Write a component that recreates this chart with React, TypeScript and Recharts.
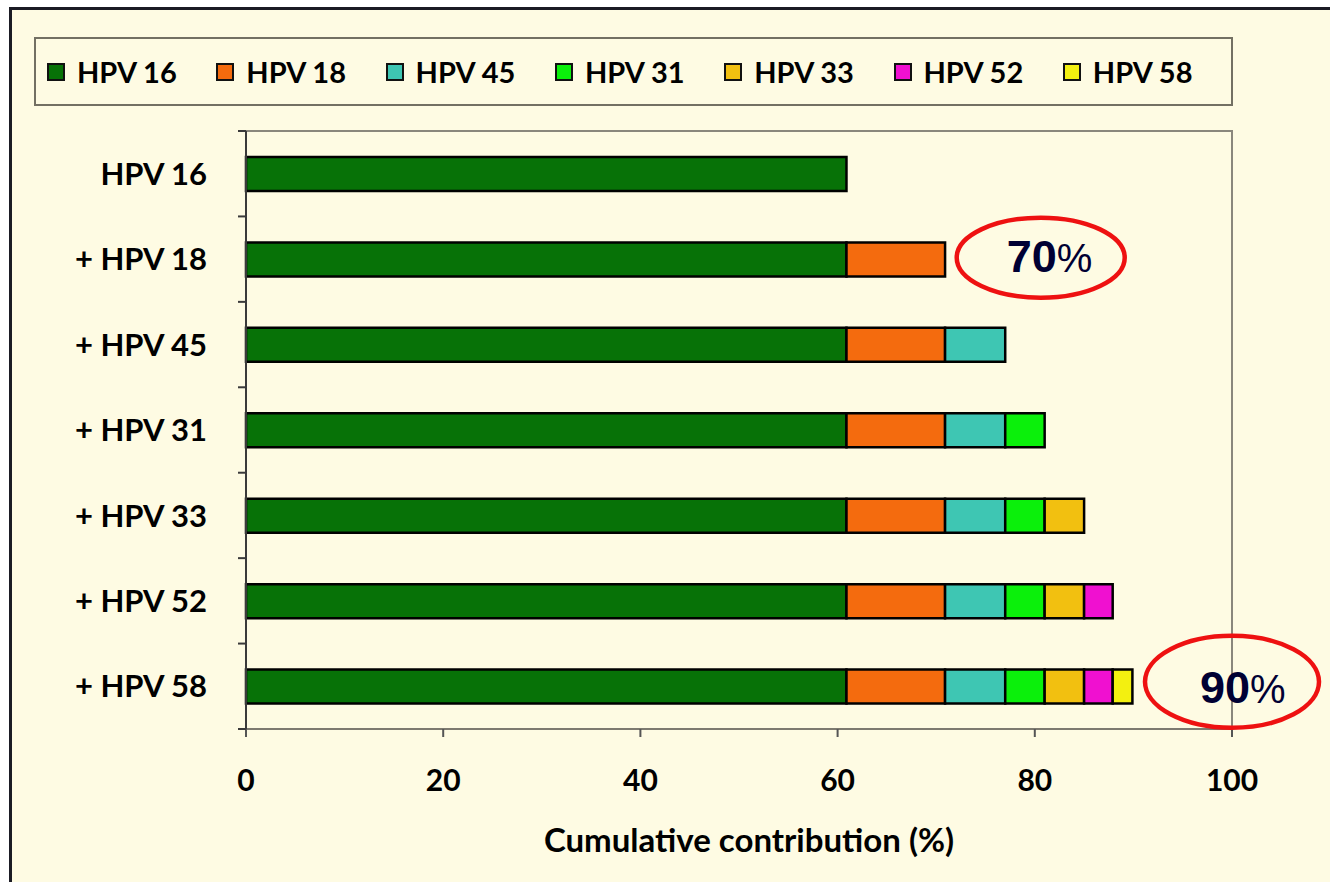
import React from "react"
import { BarChart, Bar, XAxis, YAxis, ReferenceArea, ReferenceDot, Label } from "recharts"

// Rows of the chart (each row adds one more type)
const categories = ["HPV 16", "+ HPV 18", "+ HPV 45", "+ HPV 31", "+ HPV 33", "+ HPV 52", "+ HPV 58"]
// Series / segments
const seriesNames = ["HPV 16", "HPV 18", "HPV 45", "HPV 31", "HPV 33", "HPV 52", "HPV 58"]
// Contribution of each type (%)
const increments = [60.9, 10, 6.1, 4, 4, 2.9, 2]
const seriesColors = ["#077207", "#F46B0E", "#3EC6B3", "#0BF00B", "#F2C010", "#F010D0", "#F3F010"]
const xTicks = [0, 20, 40, 60, 80, 100]

// Circled totals
const callouts = [
    { category: "+ HPV 18", value: 80.6, number: "70" },
    { category: "+ HPV 58", value: 100, number: "90" },
]
const calloutStyles = [
    { rx: 84, ry: 40, dy: -1.5, tx: -34, ty: 12.5 },
    { rx: 87, ry: 46, dy: -4.5, tx: -32, ty: 16.5 },
]

const FONT = "Lato, 'Open Sans', sans-serif"
const CREAM = "#FEFBE3"
const Y_TICK_MARGIN = 39

const chartData = categories.map((name, i) => {
    const row: Record<string, string | number> = { name }
    seriesNames.forEach((s, j) => {
        if (j <= i) row[s] = increments[j]
    })
    return row
})

// Category label plus Excel-style tick marks on the band edges
const CategoryTick = (props: any) => {
    const { x, y, payload, index } = props
    const axisX = x + Y_TICK_MARGIN
    const half = payload?.offset ?? 0
    return (
        <g>
            <line x1={axisX - 8} x2={axisX} y1={y - half} y2={y - half} stroke="#3a3a3a" strokeWidth={2} />
            {index === categories.length - 1 && (
                <line x1={axisX - 8} x2={axisX} y1={y + half} y2={y + half} stroke="#3a3a3a" strokeWidth={2} />
            )}
            <text
                x={x}
                y={y}
                dy="0.36em"
                textAnchor="end"
                fontSize={31}
                fontWeight={700}
                fill="#000"
                fontFamily={FONT}
            >
                {payload.value}
            </text>
        </g>
    )
}

const CalloutShape = (props: { cx?: number; cy?: number; idx: number; number: string }) => {
    const { cx, cy, idx, number } = props
    if (cx == null || cy == null) return null
    const st = calloutStyles[idx]
    return (
        <g>
            <ellipse cx={cx} cy={cy + st.dy} rx={st.rx} ry={st.ry} fill="none" stroke="#EE1111" strokeWidth={4.5} />
            <text x={cx + st.tx} y={cy + st.ty} fill="#000033" fontFamily="'Liberation Sans', Arial, sans-serif">
                <tspan fontWeight="bold" fontSize={45}>{number}</tspan>
                <tspan fontSize={40}>%</tspan>
            </text>
        </g>
    )
}

export default function App() {
    return (
        <div style={{ position: "absolute", left: 0, top: 0, width: 1330, height: 882, background: "#fff", overflow: "hidden" }}>
            {/* slide frame */}
            <div
                style={{
                    position: "absolute",
                    left: 9,
                    top: 7,
                    width: 1330,
                    height: 882,
                    background: CREAM,
                    borderTop: "3px solid #1b1b24",
                    borderLeft: "3px solid #1b1b24",
                }}
            />
            {/* legend */}
            <div
                style={{
                    position: "absolute",
                    left: 34,
                    top: 37,
                    width: 1199,
                    height: 69,
                    boxSizing: "border-box",
                    border: "2px solid #737063",
                    fontFamily: FONT,
                }}
            >
                {seriesNames.map((s, i) => (
                    <div
                        key={s}
                        style={{
                            position: "absolute",
                            left: 11 + i * 169.3,
                            top: 0,
                            height: 65,
                            display: "flex",
                            alignItems: "center",
                        }}
                    >
                        <span
                            style={{
                                width: 14,
                                height: 14,
                                background: seriesColors[i],
                                border: "2px solid #111",
                                display: "inline-block",
                                marginRight: 12,
                            }}
                        />
                        <span style={{ fontSize: 29, fontWeight: 700, color: "#000" }}>{s}</span>
                    </div>
                ))}
            </div>
            <div style={{ position: "absolute", left: 0, top: 0 }}>
                <BarChart
                    width={1330}
                    height={882}
                    data={chartData}
                    layout="vertical"
                    margin={{ top: 131, right: 98, bottom: 0, left: 0 }}
                    barSize={34}
                >
                    {/* plot area border (top / right) */}
                    <ReferenceArea x1={0} x2={100} fill="none" stroke="#8a877c" strokeWidth={2} ifOverflow="visible" />
                    <XAxis
                        type="number"
                        domain={[0, 100]}
                        ticks={xTicks}
                        height={153}
                        axisLine={{ stroke: "#7d7a70", strokeWidth: 2 }}
                        tickLine={{ stroke: "#555", strokeWidth: 2 }}
                        tickSize={8}
                        tickMargin={33}
                        tick={{ fontSize: 30, fontWeight: 700, fill: "#000", fontFamily: FONT }}
                    >
                        <Label
                            value="Cumulative contribution (%)"
                            position="insideBottom"
                            offset={30}
                            dx={10}
                            style={{ fontSize: 33, fontWeight: 700, fill: "#000", fontFamily: FONT }}
                        />
                    </XAxis>
                    <YAxis
                        type="category"
                        dataKey="name"
                        width={246}
                        axisLine={{ stroke: "#3a3a3a", strokeWidth: 2 }}
                        tickLine={false}
                        tickSize={0}
                        tickMargin={Y_TICK_MARGIN}
                        tick={<CategoryTick />}
                    />
                    {seriesNames.map((s, i) => (
                        <Bar
                            key={s}
                            dataKey={s}
                            stackId="cum"
                            fill={seriesColors[i]}
                            stroke="#000"
                            strokeWidth={2.5}
                            isAnimationActive={false}
                        />
                    ))}
                    {callouts.map((c, i) => (
                        <ReferenceDot
                            key={c.category}
                            x={c.value}
                            y={c.category}
                            ifOverflow="visible"
                            shape={(p: { cx?: number; cy?: number }) => (
                                <CalloutShape cx={p.cx} cy={p.cy} idx={i} number={c.number} />
                            )}
                        />
                    ))}
                </BarChart>
            </div>
        </div>
    )
}
